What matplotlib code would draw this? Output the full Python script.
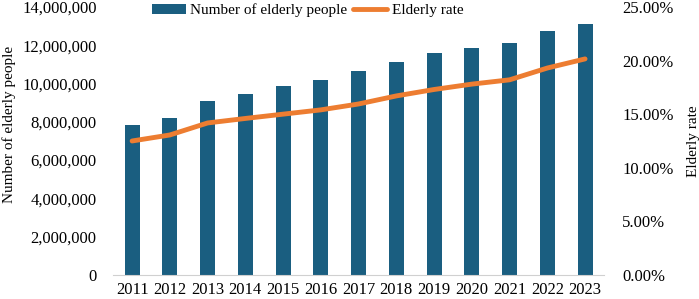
import matplotlib.pyplot as plt
import matplotlib.ticker as mticker
import numpy as np

years = ['2011', '2012', '2013', '2014', '2015', '2016', '2017',
         '2018', '2019', '2020', '2021', '2022', '2023']
elderly_people = [7840000, 8200000, 9090000, 9460000, 9870000, 10190000, 10660000,
                  11130000, 11600000, 11860000, 12120000, 12750000, 13110000]
elderly_rate = [12.5, 13.06, 14.18, 14.6, 15.0, 15.4, 15.95,
                16.7, 17.3, 17.8, 18.2, 19.3, 20.15]

plt.rcParams['font.family'] = ['Liberation Serif', 'DejaVu Serif']
plt.rcParams['font.size'] = 12

bar_color = '#1a5e80'
line_color = '#ed7d31'

fig = plt.figure(figsize=(6.99, 2.99), dpi=100)
ax = fig.add_axes([0.162, 0.080, 0.702, 0.897])
x = np.arange(len(years))

bars = ax.bar(x, elderly_people, width=0.4, color=bar_color, zorder=2,
              label='Number of elderly people')
ax.set_xlim(-0.5, len(years) - 0.5)
ax.set_ylim(0, 14000000)
ax.set_yticks(np.arange(0, 14000001, 2000000))
ax.yaxis.set_major_formatter(mticker.FuncFormatter(lambda v, p: f'{int(v):,}'))
ax.set_xticks(x)
ax.set_xticklabels(years)
ax.tick_params(axis='x', length=0, pad=5)
ax.tick_params(axis='y', length=0, pad=12)
for s in ['top', 'right', 'left']:
    ax.spines[s].set_visible(False)
ax.spines['bottom'].set_color('#d0d0d0')
ax.set_ylabel('Number of elderly people', fontsize=11)
ax.yaxis.set_label_coords(-0.198, 0.56)

ax2 = ax.twinx()
line, = ax2.plot(x, elderly_rate, color=line_color, lw=3.5, solid_capstyle='round',
                 label='Elderly rate', zorder=3)
ax2.set_ylim(0, 25)
ax2.set_yticks(np.arange(0, 25.1, 5))
ax2.yaxis.set_major_formatter(mticker.FuncFormatter(lambda v, p: f'{v:.2f}%'))
ax2.tick_params(length=0, pad=13)
for s in ['top', 'right', 'left', 'bottom']:
    ax2.spines[s].set_visible(False)
ax2.set_ylabel('Elderly rate', fontsize=11, labelpad=10)

fig.legend([bars, line], ['Number of elderly people', 'Elderly rate'],
           loc='center', bbox_to_anchor=(0.44, 0.965), ncol=2, frameon=False,
           handlelength=2.2, handletextpad=0.3, columnspacing=0.4, fontsize=11)

fig.savefig('out.png', dpi=100)
